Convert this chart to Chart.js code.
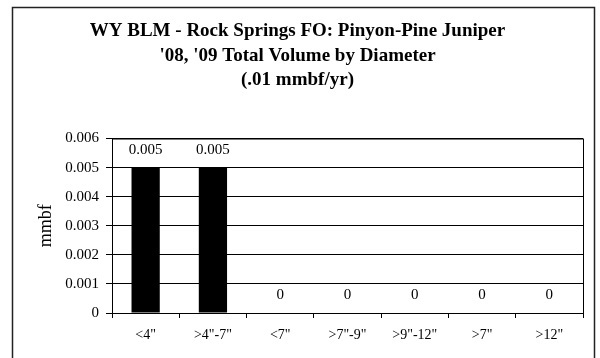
<!DOCTYPE html>
<html>
<head>
<meta charset="utf-8">
<script src="https://cdn.jsdelivr.net/npm/chart.js@4"></script>
<style>
  html, body { margin: 0; padding: 0; background: #fff; }
  #wrap { width: 600px; height: 358px; }
</style>
</head>
<body>
<div id="wrap"><canvas id="chart" width="600" height="358"></canvas></div>
<script>
// Chart data
const categories = ['<4"', '>4"-7"', '<7"', '>7"-9"', '>9"-12"', '>7"', '>12"'];
const volumes = [0.005, 0.005, 0, 0, 0, 0, 0];
const titleLines = [
  'WY BLM - Rock Springs FO: Pinyon-Pine Juniper',
  "'08, '09 Total Volume by Diameter",
  '(.01 mmbf/yr)'
];
const yTicks = [0, 0.001, 0.002, 0.003, 0.004, 0.005, 0.006];

const SERIF = '"Liberation Serif", "Times New Roman", serif';

// Frame around the whole chart plus the plot-area box
const framePlugin = {
  id: 'frame',
  afterDraw(chart) {
    const { ctx, chartArea } = chart;
    ctx.save();
    ctx.strokeStyle = '#000';
    ctx.lineWidth = 1;
    ctx.strokeRect(chartArea.left + 0.5, chartArea.top + 0.5,
      chartArea.right - chartArea.left, chartArea.bottom - chartArea.top);
    ctx.strokeStyle = '#222';
    ctx.lineWidth = 1.5;
    ctx.beginPath();
    ctx.moveTo(12.5, 400);
    ctx.lineTo(12.5, 7.5);
    ctx.lineTo(594.5, 7.5);
    ctx.lineTo(594.5, 400);
    ctx.stroke();
    ctx.restore();
  }
};

// Value labels above each bar
const valueLabels = {
  id: 'valueLabels',
  afterDatasetsDraw(chart) {
    const { ctx } = chart;
    const meta = chart.getDatasetMeta(0);
    ctx.save();
    ctx.font = '15px ' + SERIF;
    ctx.fillStyle = '#000';
    ctx.textAlign = 'center';
    ctx.textBaseline = 'middle';
    meta.data.forEach((bar, i) => {
      const v = volumes[i];
      const text = v === 0 ? '0' : v.toFixed(3);
      ctx.fillText(text, bar.x, bar.y - 18);
    });
    ctx.restore();
  }
};

new Chart(document.getElementById('chart'), {
  type: 'bar',
  data: {
    labels: categories,
    datasets: [{
      data: volumes,
      backgroundColor: '#000',
      borderWidth: 0,
      categoryPercentage: 1,
      barPercentage: 0.42
    }]
  },
  options: {
    responsive: false,
    animation: false,
    layout: { padding: { left: 12, right: 17, top: 0, bottom: 0 } },
    plugins: {
      legend: { display: false },
      tooltip: { enabled: false },
      title: {
        display: true,
        text: titleLines,
        color: '#000',
        font: { family: SERIF, size: 19, weight: 'bold', lineHeight: 1.29 },
        padding: { top: 19, bottom: 46 }
      }
    },
    scales: {
      x: {
        grid: {
          display: true,
          offset: true,
          drawOnChartArea: false,
          color: '#000',
          tickLength: 5
        },
        border: { display: true, color: '#000' },
        ticks: {
          color: '#000',
          font: { family: SERIF, size: 14 },
          padding: 9,
          maxRotation: 0
        },
        afterFit: (scale) => { scale.height = 45; }
      },
      y: {
        min: 0,
        max: 0.006,
        afterBuildTicks: (scale) => {
          scale.ticks = yTicks.map(v => ({ value: v }));
        },
        grid: { color: '#000', tickLength: 6 },
        border: { display: true, color: '#000' },
        ticks: {
          color: '#000',
          font: { family: SERIF, size: 15 },
          padding: 7,
          callback: (v) => v === 0 ? '0' : v.toFixed(3)
        },
        title: {
          display: true,
          text: 'mmbf',
          color: '#000',
          font: { family: SERIF, size: 18 },
          padding: { top: 23, bottom: 0 }
        },
        afterFit: (scale) => { scale.width = 100; }
      }
    }
  },
  plugins: [framePlugin, valueLabels]
});
</script>
</body>
</html>
